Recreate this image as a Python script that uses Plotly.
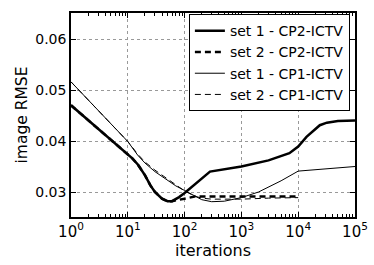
import plotly.graph_objects as go

# data
x_s1_cp2 = [1, 2, 3, 5, 7, 10, 12, 15, 20, 25, 30, 40, 50, 60, 80, 100, 150, 280, 1000, 3000, 7000, 10000, 14000, 19000, 24000, 32000, 50000, 100000]
y_s1_cp2 = [0.047, 0.0441, 0.0425, 0.0404, 0.039, 0.0375, 0.0366, 0.0354, 0.0333, 0.0313, 0.0300, 0.0287, 0.0282, 0.0282, 0.0290, 0.0298, 0.0314, 0.0340, 0.0350, 0.0362, 0.0376, 0.0389, 0.0408, 0.0421, 0.0431, 0.0436, 0.0439, 0.0440]

x_s2_cp2 = [1, 2, 3, 5, 7, 10, 12, 15, 20, 25, 30, 40, 50, 60, 80, 100, 150, 10000]
y_s2_cp2 = [0.047, 0.0441, 0.0425, 0.0404, 0.039, 0.0375, 0.0366, 0.0354, 0.0333, 0.0313, 0.0300, 0.0287, 0.0282, 0.0282, 0.0285, 0.0288, 0.0291, 0.0291]

x_s1_cp1 = [1, 2, 3, 5, 7, 10, 15, 20, 30, 50, 70, 100, 150, 200, 300, 500, 1000, 2000, 5000, 10000, 100000]
y_s1_cp1 = [0.0516, 0.0481, 0.046, 0.0434, 0.0417, 0.0399, 0.0372, 0.0357, 0.0340, 0.0323, 0.0312, 0.0303, 0.0292, 0.0285, 0.0281, 0.0282, 0.0289, 0.0300, 0.0322, 0.0341, 0.0350]

x_s2_cp1 = [1, 2, 3, 5, 7, 10, 15, 20, 30, 50, 70, 100, 150, 200, 300, 1000, 3000, 10000]
y_s2_cp1 = [0.0516, 0.0481, 0.046, 0.0434, 0.0417, 0.0399, 0.0374, 0.0359, 0.0343, 0.0326, 0.0314, 0.0302, 0.0292, 0.0288, 0.0286, 0.0286, 0.0288, 0.0289]

x_tickvals = [1, 10, 100, 1000, 10000, 100000]
x_ticktext = ["10<sup>0</sup>", "10<sup>1</sup>", "10<sup>2</sup>", "10<sup>3</sup>", "10<sup>4</sup>", "10<sup>5</sup>"]
y_tickvals = [0.03, 0.04, 0.05, 0.06]
y_ticktext = ["0.03", "0.04", "0.05", "0.06"]

minor_vals = [m * 10 ** d for d in range(5) for m in range(2, 10)]

fig = go.Figure()
fig.add_trace(go.Scatter(x=x_s1_cp2, y=y_s1_cp2, mode="lines", name="set 1 - CP2-ICTV",
                         line=dict(color="black", width=2.5)))
fig.add_trace(go.Scatter(x=x_s2_cp2, y=y_s2_cp2, mode="lines", name="set 2 - CP2-ICTV",
                         line=dict(color="black", width=2.5, dash="6px,4px")))
fig.add_trace(go.Scatter(x=x_s1_cp1, y=y_s1_cp1, mode="lines", name="set 1 - CP1-ICTV",
                         line=dict(color="black", width=1)))
fig.add_trace(go.Scatter(x=x_s2_cp1, y=y_s2_cp1, mode="lines", name="set 2 - CP1-ICTV",
                         line=dict(color="black", width=1, dash="6px,4px")))

FAM = "DejaVu Sans, Verdana, sans-serif"

fig.update_layout(
    width=374, height=265,
    margin=dict(l=71, r=19, t=13, b=48),
    paper_bgcolor="white", plot_bgcolor="white",
    font=dict(family=FAM, size=14, color="black"),
    showlegend=True,
    legend=dict(x=0.982, y=0.994, xanchor="right", yanchor="top",
                bgcolor="white", bordercolor="black", borderwidth=1,
                font=dict(family=FAM, size=14, color="black"),
                tracegroupgap=0, itemwidth=30),
)
fig.update_xaxes(
    type="log", range=[0, 5],
    tickvals=x_tickvals, ticktext=x_ticktext,
    ticks="inside", ticklen=5, tickcolor="black",
    showline=True, linecolor="black", linewidth=1.5, mirror="ticks",
    showgrid=True, gridcolor="#999999", griddash="dot", gridwidth=1,
    minor=dict(tickvals=minor_vals, ticks="inside", ticklen=3, tickcolor="black", showgrid=False),
    tickfont=dict(family=FAM, size=15),
    title=dict(text="iterations", font=dict(family=FAM, size=16), standoff=4),
    zeroline=False, automargin=False,
)
fig.update_yaxes(
    range=[0.0251, 0.0651],
    tickvals=y_tickvals, ticktext=y_ticktext,
    ticks="inside", ticklen=5, tickcolor="black",
    showline=True, linecolor="black", linewidth=1.5, mirror="ticks",
    showgrid=True, gridcolor="#999999", griddash="dot", gridwidth=1,
    tickfont=dict(family=FAM, size=14),
    title=dict(text="image RMSE", font=dict(family=FAM, size=15.5), standoff=4),
    zeroline=False, automargin=False,
)

fig.write_html("out.html", config={"displayModeBar": False},
               post_script="document.body.style.margin='0';document.body.style.padding='0';")
